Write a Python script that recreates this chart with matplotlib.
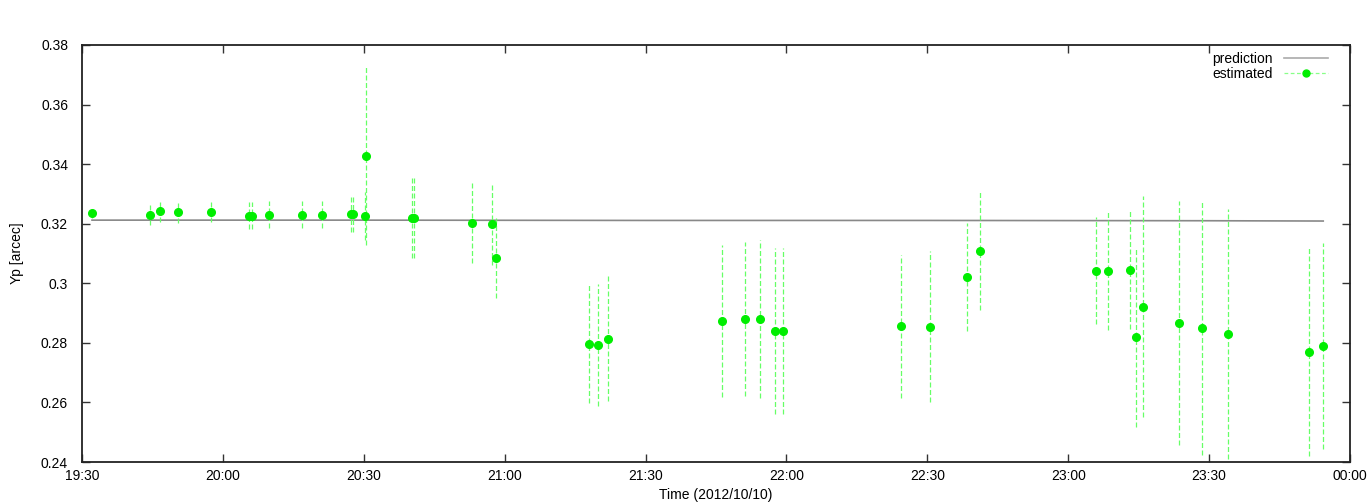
import matplotlib.pyplot as plt
import matplotlib.dates as mdates
from matplotlib.lines import Line2D
import pandas as pd

DAY = "2012-10-10 "

# estimated points: time of day, value, half error
est_times = ["19:32:08", "19:44:29", "19:46:36", "19:50:30", "19:57:30", "20:05:30",
             "20:06:18", "20:09:48", "20:16:48", "20:21:12", "20:27:18", "20:27:36",
             "20:30:12", "20:30:24", "20:40:18", "20:40:42", "20:53:00", "20:57:24",
             "20:58:06", "21:18:00", "21:19:54", "21:22:06", "21:46:18", "21:51:06",
             "21:54:24", "21:57:36", "21:59:12", "22:24:24", "22:30:36", "22:38:30",
             "22:41:18", "23:06:00", "23:08:24", "23:13:12", "23:14:24", "23:15:54",
             "23:23:36", "23:28:30", "23:34:00", "23:51:12", "23:54:18"]
est_values = [0.3235, 0.3230, 0.3242, 0.3238, 0.3240, 0.3227,
              0.3227, 0.3230, 0.3230, 0.3230, 0.3233, 0.3233,
              0.3227, 0.3427, 0.3219, 0.3219, 0.3202, 0.3198,
              0.3085, 0.2797, 0.2793, 0.2814, 0.2874, 0.2880,
              0.2879, 0.2840, 0.2840, 0.2856, 0.2854, 0.3021,
              0.3108, 0.3042, 0.3042, 0.3045, 0.2819, 0.2922,
              0.2866, 0.2849, 0.2830, 0.2770, 0.2789]
est_errors = [0.0015, 0.0034, 0.0035, 0.0035, 0.0034, 0.0046,
              0.0046, 0.0046, 0.0046, 0.0046, 0.0060, 0.0060,
              0.0080, 0.0300, 0.0133, 0.0133, 0.0134, 0.0137,
              0.0133, 0.0200, 0.0205, 0.0210, 0.0256, 0.0260,
              0.0265, 0.0280, 0.0280, 0.0240, 0.0254, 0.0180,
              0.0197, 0.0180, 0.0200, 0.0200, 0.0300, 0.0370,
              0.0410, 0.0425, 0.0420, 0.0350, 0.0346]

# prediction curve
pred_times = ["19:32:08", "20:30:00", "21:30:00", "22:30:00", "23:30:00", "23:54:18"]
pred_values = [0.3212, 0.3212, 0.3211, 0.3211, 0.3210, 0.3209]

est_t = pd.to_datetime([DAY + t for t in est_times])
pred_t = pd.to_datetime([DAY + t for t in pred_times])

plt.rcParams['font.family'] = ['Liberation Sans', 'DejaVu Sans']
fig = plt.figure(figsize=(13.68, 5.04), dpi=100)
ax = fig.add_axes([82 / 1368, 42 / 504, 1268 / 1368, 417 / 504])

GREEN = "#00ee00"
ax.plot(pred_t, pred_values, color="#888888", lw=1.2, zorder=2)
eb = ax.errorbar(est_t, est_values, yerr=est_errors, fmt="o", color=GREEN,
                 ms=5.5, ecolor="#66ff66", elinewidth=0.9, capsize=0, zorder=3)
eb[2][0].set_linestyle((0, (4, 2)))

ax.set_xlim(pd.Timestamp(DAY + "19:30"), pd.Timestamp("2012-10-11 00:00"))
ax.set_ylim(0.24, 0.38)
ax.set_yticks([0.24, 0.26, 0.28, 0.30, 0.32, 0.34, 0.36, 0.38])
ax.set_yticklabels(["0.24", "0.26", "0.28", "0.3", "0.32", "0.34", "0.36", "0.38"])
ax.xaxis.set_major_locator(mdates.MinuteLocator(byminute=[0, 30]))
ax.xaxis.set_major_formatter(mdates.DateFormatter("%H:%M"))
ax.tick_params(direction="in", length=6, width=1, top=True, right=True,
               labelsize=10, color="#333333")
ax.tick_params(axis="x", pad=5)
ax.tick_params(axis="y", pad=10)
for s in ax.spines.values():
    s.set_linewidth(1.3)
    s.set_color("#222222")

ax.set_xlabel("Time (2012/10/10)", fontsize=10)
ax.set_ylabel("Yp [arcec]", fontsize=10, labelpad=12)

handles = [Line2D([], [], color="#aaaaaa", lw=1.2),
           Line2D([], [], color="#88ff88", ls=(0, (3, 2)), lw=0.9,
                  marker="o", ms=5, mfc=GREEN, mec=GREEN)]
ax.legend(handles, ["prediction", "estimated"], loc="upper right", frameon=False,
          markerfirst=False, fontsize=10, handlelength=3.2, labelspacing=0.05,
          borderaxespad=0, borderpad=0.2, handletextpad=0.8,
          bbox_to_anchor=(0.985, 0.99))

fig.savefig("out.png", dpi=100)
